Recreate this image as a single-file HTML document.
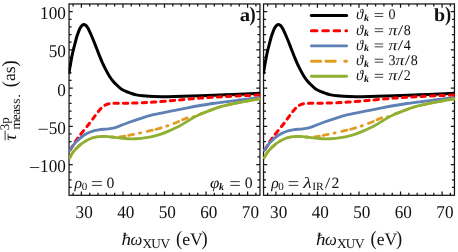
<!DOCTYPE html>
<html><head><meta charset="utf-8"><title>plot</title>
<style>html,body{margin:0;padding:0;background:#fff;font-family:"Liberation Serif",serif}svg{display:block}#w{will-change:transform;width:458px;height:252px}</style>
</head><body>
<div id="w">
<svg width="458" height="252" viewBox="0 0 458 252">
<rect width="458" height="252" fill="#fff"/>
<defs>
<clipPath id="c0"><rect x="68.55" y="3.45" width="191.90" height="192.35"/></clipPath>
<clipPath id="c1"><rect x="263.05" y="3.45" width="191.90" height="192.35"/></clipPath>
</defs>
<g stroke="#151515" stroke-width="1.25" fill="none">
<rect x="69.05" y="3.95" width="190.90" height="191.35"/>
<path d="M73.09 195.30v-2.60 M73.09 3.95v2.60 M81.40 195.30v-3.90 M81.40 3.95v3.90 M89.71 195.30v-2.60 M89.71 3.95v2.60 M98.02 195.30v-2.60 M98.02 3.95v2.60 M106.33 195.30v-2.60 M106.33 3.95v2.60 M114.64 195.30v-2.60 M114.64 3.95v2.60 M122.95 195.30v-3.90 M122.95 3.95v3.90 M131.26 195.30v-2.60 M131.26 3.95v2.60 M139.57 195.30v-2.60 M139.57 3.95v2.60 M147.88 195.30v-2.60 M147.88 3.95v2.60 M156.19 195.30v-2.60 M156.19 3.95v2.60 M164.50 195.30v-3.90 M164.50 3.95v3.90 M172.81 195.30v-2.60 M172.81 3.95v2.60 M181.12 195.30v-2.60 M181.12 3.95v2.60 M189.43 195.30v-2.60 M189.43 3.95v2.60 M197.74 195.30v-2.60 M197.74 3.95v2.60 M206.05 195.30v-3.90 M206.05 3.95v3.90 M214.36 195.30v-2.60 M214.36 3.95v2.60 M222.67 195.30v-2.60 M222.67 3.95v2.60 M230.98 195.30v-2.60 M230.98 3.95v2.60 M239.29 195.30v-2.60 M239.29 3.95v2.60 M247.60 195.30v-3.90 M247.60 3.95v3.90 M255.91 195.30v-2.60 M255.91 3.95v2.60 M69.05 187.45h2.50 M259.95 187.45h-2.50 M69.05 179.81h2.50 M259.95 179.81h-2.50 M69.05 172.16h2.50 M259.95 172.16h-2.50 M69.05 164.52h3.70 M259.95 164.52h-3.70 M69.05 156.88h2.50 M259.95 156.88h-2.50 M69.05 149.23h2.50 M259.95 149.23h-2.50 M69.05 141.58h2.50 M259.95 141.58h-2.50 M69.05 133.94h2.50 M259.95 133.94h-2.50 M69.05 126.29h3.70 M259.95 126.29h-3.70 M69.05 118.65h2.50 M259.95 118.65h-2.50 M69.05 111.00h2.50 M259.95 111.00h-2.50 M69.05 103.36h2.50 M259.95 103.36h-2.50 M69.05 95.71h2.50 M259.95 95.71h-2.50 M69.05 88.07h3.70 M259.95 88.07h-3.70 M69.05 80.42h2.50 M259.95 80.42h-2.50 M69.05 72.78h2.50 M259.95 72.78h-2.50 M69.05 65.13h2.50 M259.95 65.13h-2.50 M69.05 57.49h2.50 M259.95 57.49h-2.50 M69.05 49.84h3.70 M259.95 49.84h-3.70 M69.05 42.20h2.50 M259.95 42.20h-2.50 M69.05 34.55h2.50 M259.95 34.55h-2.50 M69.05 26.91h2.50 M259.95 26.91h-2.50 M69.05 19.27h2.50 M259.95 19.27h-2.50 M69.05 11.62h3.70 M259.95 11.62h-3.70 "/>
</g>
<g clip-path="url(#c0)" fill="none" stroke-width="2.8" stroke-linejoin="round">
<path d="M68.80 73.90 C69.42 70.50 71.32 59.15 72.50 53.50 C73.68 47.85 75.12 43.00 75.90 40.00 C76.68 37.00 76.72 36.98 77.20 35.50 C77.68 34.02 78.35 32.27 78.80 31.10 C79.25 29.93 79.55 29.22 79.90 28.50 C80.25 27.78 80.57 27.28 80.90 26.80 C81.23 26.32 81.41 25.97 81.90 25.60 C82.39 25.23 83.17 24.60 83.85 24.60 C84.53 24.60 85.46 25.23 86.00 25.60 C86.54 25.97 86.73 26.32 87.10 26.80 C87.47 27.28 87.82 27.78 88.20 28.50 C88.58 29.22 88.87 29.93 89.40 31.10 C89.93 32.27 90.75 34.02 91.40 35.50 C92.05 36.98 92.61 38.32 93.30 40.00 C93.99 41.68 94.74 43.55 95.54 45.60 C96.34 47.65 97.50 50.70 98.12 52.30 C98.74 53.90 98.61 53.62 99.26 55.20 C99.91 56.78 100.96 59.48 102.00 61.80 C103.04 64.12 104.23 66.65 105.50 69.10 C106.77 71.55 108.30 74.43 109.60 76.50 C110.90 78.57 112.07 80.05 113.30 81.50 C114.53 82.95 115.68 83.95 117.00 85.20 C118.32 86.45 119.62 87.92 121.20 89.00 C122.78 90.08 124.75 90.95 126.50 91.70 C128.25 92.45 130.08 92.97 131.70 93.50 C133.32 94.03 134.33 94.52 136.20 94.90 C138.07 95.28 139.93 95.52 142.90 95.80 C145.87 96.08 150.32 96.45 154.00 96.60 C157.68 96.75 161.50 96.70 165.00 96.70 C168.50 96.70 169.17 96.75 175.00 96.60 C180.83 96.45 191.67 96.10 200.00 95.80 C208.33 95.50 216.67 95.15 225.00 94.80 C233.33 94.45 244.13 93.97 250.00 93.70 C255.87 93.43 258.50 93.28 260.20 93.20" stroke="#000" stroke-width="3"/>
<path d="M69.00 152.20 C70.37 149.97 73.75 143.65 77.20 138.80 C80.65 133.95 86.37 127.40 89.70 123.10 C93.03 118.80 95.20 115.57 97.20 113.00 C99.20 110.43 100.37 109.02 101.70 107.70 C103.03 106.38 103.98 105.75 105.20 105.10 C106.42 104.45 107.70 104.08 109.00 103.80 C110.30 103.52 111.50 103.48 113.00 103.40 C114.50 103.32 115.42 103.33 118.00 103.30 C120.58 103.27 124.83 103.27 128.50 103.20 C132.17 103.13 135.83 103.08 140.00 102.90 C144.17 102.72 147.67 102.53 153.50 102.10 C159.33 101.67 167.25 100.97 175.00 100.30 C182.75 99.63 191.67 98.72 200.00 98.10 C208.33 97.48 216.67 97.05 225.00 96.60 C233.33 96.15 244.13 95.68 250.00 95.40 C255.87 95.12 258.50 94.98 260.20 94.90" stroke="#ff0000" stroke-width="3" stroke-dasharray="4.4 5.0" stroke-dashoffset="6.5" stroke-linecap="round"/>
<path d="M69.00 151.50 C69.58 150.67 71.33 148.08 72.50 146.50 C73.67 144.92 74.17 143.83 76.00 142.00 C77.83 140.17 81.00 137.22 83.50 135.50 C86.00 133.78 88.50 132.65 91.00 131.70 C93.50 130.75 95.58 130.28 98.50 129.80 C101.42 129.32 105.58 129.22 108.50 128.80 C111.42 128.38 112.67 128.35 116.00 127.30 C119.33 126.25 124.33 124.00 128.50 122.50 C132.67 121.00 136.83 119.60 141.00 118.30 C145.17 117.00 149.92 115.62 153.50 114.70 C157.08 113.78 158.92 113.53 162.50 112.80 C166.08 112.07 170.83 111.13 175.00 110.30 C179.17 109.47 183.33 108.60 187.50 107.80 C191.67 107.00 195.83 106.22 200.00 105.50 C204.17 104.78 208.33 104.10 212.50 103.50 C216.67 102.90 220.83 102.43 225.00 101.90 C229.17 101.37 233.33 100.83 237.50 100.30 C241.67 99.77 246.22 99.08 250.00 98.70 C253.78 98.32 258.50 98.12 260.20 98.00" stroke="#5e81b5"/>
<path d="M69.00 159.00 C69.75 157.78 71.50 154.17 73.50 151.70 C75.50 149.23 78.50 146.25 81.00 144.20 C83.50 142.15 86.00 140.60 88.50 139.40 C91.00 138.20 93.50 137.52 96.00 137.00 C98.50 136.48 101.00 136.33 103.50 136.30 C106.00 136.27 108.58 136.67 111.00 136.80 C113.42 136.93 115.08 137.32 118.00 137.10 C120.92 136.88 124.67 136.22 128.50 135.50 C132.33 134.78 136.83 133.73 141.00 132.80 C145.17 131.87 149.33 130.98 153.50 129.90 C157.67 128.82 162.42 127.45 166.00 126.30 C169.58 125.15 171.42 124.42 175.00 123.00 C178.58 121.58 184.17 118.88 187.50 117.80 C190.83 116.72 192.92 117.08 195.00 116.50 C197.08 115.92 197.50 115.32 200.00 114.30 C202.50 113.28 206.67 111.65 210.00 110.40 C213.33 109.15 216.67 107.80 220.00 106.80 C223.33 105.80 226.67 105.12 230.00 104.40 C233.33 103.68 236.67 103.15 240.00 102.50 C243.33 101.85 246.63 101.12 250.00 100.50 C253.37 99.88 258.50 99.08 260.20 98.80" stroke="#e19c24" stroke-dasharray="5.2 3.8 5.2 5.8 1.2 6.8" stroke-dashoffset="-3.9" stroke-linecap="round"/>
<path d="M69.00 159.00 C69.75 157.78 71.50 154.17 73.50 151.70 C75.50 149.23 78.50 146.25 81.00 144.20 C83.50 142.15 86.00 140.60 88.50 139.40 C91.00 138.20 93.50 137.52 96.00 137.00 C98.50 136.48 101.00 136.30 103.50 136.30 C106.00 136.30 108.08 136.70 111.00 137.00 C113.92 137.30 117.67 137.80 121.00 138.10 C124.33 138.40 127.67 138.77 131.00 138.80 C134.33 138.83 137.67 138.63 141.00 138.30 C144.33 137.97 147.67 137.50 151.00 136.80 C154.33 136.10 157.83 135.15 161.00 134.10 C164.17 133.05 166.83 131.88 170.00 130.50 C173.17 129.12 176.67 127.60 180.00 125.80 C183.33 124.00 186.67 121.62 190.00 119.70 C193.33 117.78 196.67 115.85 200.00 114.30 C203.33 112.75 206.67 111.65 210.00 110.40 C213.33 109.15 216.67 107.80 220.00 106.80 C223.33 105.80 226.67 105.12 230.00 104.40 C233.33 103.68 236.67 103.15 240.00 102.50 C243.33 101.85 246.63 101.12 250.00 100.50 C253.37 99.88 258.50 99.08 260.20 98.80" stroke="#8fb032"/>
</g>
<g stroke="#151515" stroke-width="1.25" fill="none">
<rect x="263.55" y="3.95" width="190.90" height="191.35"/>
<path d="M267.59 195.30v-2.60 M267.59 3.95v2.60 M275.90 195.30v-3.90 M275.90 3.95v3.90 M284.21 195.30v-2.60 M284.21 3.95v2.60 M292.52 195.30v-2.60 M292.52 3.95v2.60 M300.83 195.30v-2.60 M300.83 3.95v2.60 M309.14 195.30v-2.60 M309.14 3.95v2.60 M317.45 195.30v-3.90 M317.45 3.95v3.90 M325.76 195.30v-2.60 M325.76 3.95v2.60 M334.07 195.30v-2.60 M334.07 3.95v2.60 M342.38 195.30v-2.60 M342.38 3.95v2.60 M350.69 195.30v-2.60 M350.69 3.95v2.60 M359.00 195.30v-3.90 M359.00 3.95v3.90 M367.31 195.30v-2.60 M367.31 3.95v2.60 M375.62 195.30v-2.60 M375.62 3.95v2.60 M383.93 195.30v-2.60 M383.93 3.95v2.60 M392.24 195.30v-2.60 M392.24 3.95v2.60 M400.55 195.30v-3.90 M400.55 3.95v3.90 M408.86 195.30v-2.60 M408.86 3.95v2.60 M417.17 195.30v-2.60 M417.17 3.95v2.60 M425.48 195.30v-2.60 M425.48 3.95v2.60 M433.79 195.30v-2.60 M433.79 3.95v2.60 M442.10 195.30v-3.90 M442.10 3.95v3.90 M450.41 195.30v-2.60 M450.41 3.95v2.60 M263.55 187.45h2.50 M454.45 187.45h-2.50 M263.55 179.81h2.50 M454.45 179.81h-2.50 M263.55 172.16h2.50 M454.45 172.16h-2.50 M263.55 164.52h3.70 M454.45 164.52h-3.70 M263.55 156.88h2.50 M454.45 156.88h-2.50 M263.55 149.23h2.50 M454.45 149.23h-2.50 M263.55 141.58h2.50 M454.45 141.58h-2.50 M263.55 133.94h2.50 M454.45 133.94h-2.50 M263.55 126.29h3.70 M454.45 126.29h-3.70 M263.55 118.65h2.50 M454.45 118.65h-2.50 M263.55 111.00h2.50 M454.45 111.00h-2.50 M263.55 103.36h2.50 M454.45 103.36h-2.50 M263.55 95.71h2.50 M454.45 95.71h-2.50 M263.55 88.07h3.70 M454.45 88.07h-3.70 M263.55 80.42h2.50 M454.45 80.42h-2.50 M263.55 72.78h2.50 M454.45 72.78h-2.50 M263.55 65.13h2.50 M454.45 65.13h-2.50 M263.55 57.49h2.50 M454.45 57.49h-2.50 M263.55 49.84h3.70 M454.45 49.84h-3.70 M263.55 42.20h2.50 M454.45 42.20h-2.50 M263.55 34.55h2.50 M454.45 34.55h-2.50 M263.55 26.91h2.50 M454.45 26.91h-2.50 M263.55 19.27h2.50 M454.45 19.27h-2.50 M263.55 11.62h3.70 M454.45 11.62h-3.70 "/>
</g>
<g clip-path="url(#c1)" fill="none" stroke-width="2.8" stroke-linejoin="round">
<path d="M263.30 73.90 C263.92 70.50 265.82 59.15 267.00 53.50 C268.18 47.85 269.62 43.00 270.40 40.00 C271.18 37.00 271.22 36.98 271.70 35.50 C272.18 34.02 272.85 32.27 273.30 31.10 C273.75 29.93 274.05 29.22 274.40 28.50 C274.75 27.78 275.07 27.28 275.40 26.80 C275.73 26.32 275.91 25.97 276.40 25.60 C276.89 25.23 277.67 24.60 278.35 24.60 C279.03 24.60 279.96 25.23 280.50 25.60 C281.04 25.97 281.23 26.32 281.60 26.80 C281.97 27.28 282.32 27.78 282.70 28.50 C283.08 29.22 283.37 29.93 283.90 31.10 C284.43 32.27 285.25 34.02 285.90 35.50 C286.55 36.98 287.11 38.32 287.80 40.00 C288.49 41.68 289.24 43.55 290.04 45.60 C290.84 47.65 292.00 50.70 292.62 52.30 C293.24 53.90 293.11 53.62 293.76 55.20 C294.41 56.78 295.46 59.48 296.50 61.80 C297.54 64.12 298.73 66.65 300.00 69.10 C301.27 71.55 302.80 74.43 304.10 76.50 C305.40 78.57 306.57 80.05 307.80 81.50 C309.03 82.95 310.18 83.95 311.50 85.20 C312.82 86.45 314.12 87.92 315.70 89.00 C317.28 90.08 319.25 90.95 321.00 91.70 C322.75 92.45 324.58 92.97 326.20 93.50 C327.82 94.03 328.83 94.52 330.70 94.90 C332.57 95.28 334.43 95.52 337.40 95.80 C340.37 96.08 344.82 96.45 348.50 96.60 C352.18 96.75 356.00 96.70 359.50 96.70 C363.00 96.70 363.67 96.75 369.50 96.60 C375.33 96.45 386.17 96.10 394.50 95.80 C402.83 95.50 411.17 95.15 419.50 94.80 C427.83 94.45 438.63 93.97 444.50 93.70 C450.37 93.43 453.00 93.28 454.70 93.20" stroke="#000" stroke-width="3"/>
<path d="M263.50 152.20 C264.87 149.97 268.25 143.65 271.70 138.80 C275.15 133.95 280.87 127.40 284.20 123.10 C287.53 118.80 289.70 115.57 291.70 113.00 C293.70 110.43 294.87 109.02 296.20 107.70 C297.53 106.38 298.48 105.75 299.70 105.10 C300.92 104.45 302.20 104.08 303.50 103.80 C304.80 103.52 306.00 103.48 307.50 103.40 C309.00 103.32 309.92 103.33 312.50 103.30 C315.08 103.27 319.33 103.27 323.00 103.20 C326.67 103.13 330.33 103.08 334.50 102.90 C338.67 102.72 342.17 102.53 348.00 102.10 C353.83 101.67 361.75 100.97 369.50 100.30 C377.25 99.63 386.17 98.72 394.50 98.10 C402.83 97.48 411.17 97.05 419.50 96.60 C427.83 96.15 438.63 95.68 444.50 95.40 C450.37 95.12 453.00 94.98 454.70 94.90" stroke="#ff0000" stroke-width="3" stroke-dasharray="4.4 5.0" stroke-dashoffset="6.5" stroke-linecap="round"/>
<path d="M263.50 151.50 C264.08 150.67 265.83 148.08 267.00 146.50 C268.17 144.92 268.67 143.83 270.50 142.00 C272.33 140.17 275.50 137.22 278.00 135.50 C280.50 133.78 283.00 132.65 285.50 131.70 C288.00 130.75 290.08 130.28 293.00 129.80 C295.92 129.32 300.08 129.22 303.00 128.80 C305.92 128.38 307.17 128.35 310.50 127.30 C313.83 126.25 318.83 124.00 323.00 122.50 C327.17 121.00 331.33 119.60 335.50 118.30 C339.67 117.00 344.42 115.62 348.00 114.70 C351.58 113.78 353.42 113.53 357.00 112.80 C360.58 112.07 365.33 111.13 369.50 110.30 C373.67 109.47 377.83 108.60 382.00 107.80 C386.17 107.00 390.33 106.22 394.50 105.50 C398.67 104.78 402.83 104.10 407.00 103.50 C411.17 102.90 415.33 102.43 419.50 101.90 C423.67 101.37 427.83 100.83 432.00 100.30 C436.17 99.77 440.72 99.08 444.50 98.70 C448.28 98.32 453.00 98.12 454.70 98.00" stroke="#5e81b5"/>
<path d="M263.50 159.00 C264.25 157.78 266.00 154.17 268.00 151.70 C270.00 149.23 273.00 146.25 275.50 144.20 C278.00 142.15 280.50 140.60 283.00 139.40 C285.50 138.20 288.00 137.52 290.50 137.00 C293.00 136.48 295.50 136.33 298.00 136.30 C300.50 136.27 303.08 136.67 305.50 136.80 C307.92 136.93 309.58 137.32 312.50 137.10 C315.42 136.88 319.17 136.22 323.00 135.50 C326.83 134.78 331.33 133.73 335.50 132.80 C339.67 131.87 343.83 130.98 348.00 129.90 C352.17 128.82 356.92 127.45 360.50 126.30 C364.08 125.15 365.92 124.42 369.50 123.00 C373.08 121.58 378.67 118.88 382.00 117.80 C385.33 116.72 387.42 117.08 389.50 116.50 C391.58 115.92 392.00 115.32 394.50 114.30 C397.00 113.28 401.17 111.65 404.50 110.40 C407.83 109.15 411.17 107.80 414.50 106.80 C417.83 105.80 421.17 105.12 424.50 104.40 C427.83 103.68 431.17 103.15 434.50 102.50 C437.83 101.85 441.13 101.12 444.50 100.50 C447.87 99.88 453.00 99.08 454.70 98.80" stroke="#e19c24" stroke-dasharray="5.2 3.8 5.2 5.8 1.2 6.8" stroke-dashoffset="-3.9" stroke-linecap="round"/>
<path d="M263.50 159.00 C264.25 157.78 266.00 154.17 268.00 151.70 C270.00 149.23 273.00 146.25 275.50 144.20 C278.00 142.15 280.50 140.60 283.00 139.40 C285.50 138.20 288.00 137.52 290.50 137.00 C293.00 136.48 295.50 136.30 298.00 136.30 C300.50 136.30 302.58 136.70 305.50 137.00 C308.42 137.30 312.17 137.80 315.50 138.10 C318.83 138.40 322.17 138.77 325.50 138.80 C328.83 138.83 332.17 138.63 335.50 138.30 C338.83 137.97 342.17 137.50 345.50 136.80 C348.83 136.10 352.33 135.15 355.50 134.10 C358.67 133.05 361.33 131.88 364.50 130.50 C367.67 129.12 371.17 127.60 374.50 125.80 C377.83 124.00 381.17 121.62 384.50 119.70 C387.83 117.78 391.17 115.85 394.50 114.30 C397.83 112.75 401.17 111.65 404.50 110.40 C407.83 109.15 411.17 107.80 414.50 106.80 C417.83 105.80 421.17 105.12 424.50 104.40 C427.83 103.68 431.17 103.15 434.50 102.50 C437.83 101.85 441.13 101.12 444.50 100.50 C447.87 99.88 453.00 99.08 454.70 98.80" stroke="#8fb032"/>
</g>
<g font-family="Liberation Serif, serif" fill="#111" font-size="17" text-rendering="geometricPrecision">
<text transform="translate(65.90 19.22) scale(0.955 1)" font-size="18" text-anchor="end">100</text>
<text transform="translate(65.90 57.45) scale(0.955 1)" font-size="18" text-anchor="end">50</text>
<text transform="translate(65.90 95.67) scale(0.955 1)" font-size="18" text-anchor="end">0</text>
<text transform="translate(65.90 133.89) scale(0.955 1)" font-size="18" text-anchor="end">50</text>
<path d="M38.51 129.29h9.3" stroke="#222" stroke-width="0.9" fill="none"/>
<text transform="translate(65.90 172.12) scale(0.955 1)" font-size="18" text-anchor="end">100</text>
<path d="M29.92 167.52h9.3" stroke="#222" stroke-width="0.9" fill="none"/>
<text transform="translate(84.20 217.60) scale(0.955 1)" font-size="18" text-anchor="middle">30</text>
<text transform="translate(125.75 217.60) scale(0.955 1)" font-size="18" text-anchor="middle">40</text>
<text transform="translate(167.30 217.60) scale(0.955 1)" font-size="18" text-anchor="middle">50</text>
<text transform="translate(208.85 217.60) scale(0.955 1)" font-size="18" text-anchor="middle">60</text>
<text transform="translate(250.40 217.60) scale(0.955 1)" font-size="18" text-anchor="middle">70</text>
<text transform="translate(278.70 217.60) scale(0.955 1)" font-size="18" text-anchor="middle">30</text>
<text transform="translate(320.25 217.60) scale(0.955 1)" font-size="18" text-anchor="middle">40</text>
<text transform="translate(361.80 217.60) scale(0.955 1)" font-size="18" text-anchor="middle">50</text>
<text transform="translate(403.35 217.60) scale(0.955 1)" font-size="18" text-anchor="middle">60</text>
<text transform="translate(444.90 217.60) scale(0.955 1)" font-size="18" text-anchor="middle">70</text>
<text transform="translate(121.50 244.60) scale(1.080 1)" font-size="17.6" font-style="italic">ħ</text>
<text transform="translate(130.60 244.60) scale(0.950 1)" font-size="17.6" font-style="italic">ω</text>
<text font-size="13.2" y="247.7" x="142.40 151.30 160.40">XUV</text>
<text transform="translate(176.00 244.60) scale(0.920 1)" font-size="20.2">(</text>
<text transform="translate(182.20 244.60)" font-size="17.6">eV</text>
<text transform="translate(201.60 244.60) scale(0.920 1)" font-size="20.2">)</text>
<text transform="translate(316.00 244.60) scale(1.080 1)" font-size="17.6" font-style="italic">ħ</text>
<text transform="translate(325.10 244.60) scale(0.950 1)" font-size="17.6" font-style="italic">ω</text>
<text font-size="13.2" y="247.7" x="336.90 345.80 354.90">XUV</text>
<text transform="translate(370.50 244.60) scale(0.920 1)" font-size="20.2">(</text>
<text transform="translate(376.70 244.60)" font-size="17.6">eV</text>
<text transform="translate(396.10 244.60) scale(0.920 1)" font-size="20.2">)</text>
<g transform="translate(15.5 140.9) rotate(-90)">
<text transform="translate(0.20 0.00)" font-size="18.2" font-style="italic">τ</text>
<path d="M0.6 -10.4h9.6" stroke="#222" stroke-width="0.9" fill="none"/>
<text transform="translate(10.60 -6.60)" font-size="13">3p</text>
<text font-size="13.2" y="4.5" x="11.3 20.7 26.2 31.6 37.1 43.3">meass.</text>
<text transform="translate(53.60 0.00) scale(0.920 1)" font-size="20.2">(</text>
<text transform="translate(59.80 -0.50)" font-size="17.6">as</text>
<text transform="translate(74.30 0.00) scale(0.920 1)" font-size="20.2">)</text>
</g>
<text transform="translate(239.80 21.40) scale(1.120 1)" font-size="18.5" font-weight="bold">a</text>
<text transform="translate(249.40 21.40) scale(0.900 1)" font-size="20.6" font-weight="bold">)</text>
<text transform="translate(434.00 21.40) scale(1.080 1)" font-size="18.5" font-weight="bold">b</text>
<text transform="translate(444.90 21.40) scale(0.900 1)" font-size="20.6" font-weight="bold">)</text>
<text transform="translate(74.40 187.50)" font-size="15.7" font-style="italic">ρ</text>
<text transform="translate(81.80 189.90)" font-size="11">0</text>
<path d="M91.90 181.60H101.90M91.90 185.40H101.90" stroke="#222" stroke-width="0.90" fill="none"/>
<text transform="translate(106.50 187.50)" font-size="15.7">0</text>
<text transform="translate(210.10 187.50) scale(1.080 1)" font-size="15.7" font-style="italic">φ</text>
<text transform="translate(219.00 189.90)" font-size="10" font-style="italic" font-weight="bold">k</text>
<path d="M230.30 181.60H239.80M230.30 185.40H239.80" stroke="#222" stroke-width="0.90" fill="none"/>
<text transform="translate(244.80 187.50)" font-size="15.7">0</text>
<text transform="translate(271.20 187.50)" font-size="15.7" font-style="italic">ρ</text>
<text transform="translate(278.20 189.90)" font-size="11">0</text>
<path d="M288.70 181.60H298.20M288.70 185.40H298.20" stroke="#222" stroke-width="0.90" fill="none"/>
<text transform="translate(303.20 187.50) scale(1.250 1)" font-size="15.7" font-style="italic">λ</text>
<text transform="translate(312.20 189.90) scale(1.050 1)" font-size="11">IR</text>
<text transform="translate(324.90 187.50) scale(1.200 1)" font-size="15.7">/</text>
<text transform="translate(331.40 187.50)" font-size="15.7">2</text>
<text transform="translate(356.00 19.35)" font-size="14.8" font-style="italic">ϑ</text>
<text transform="translate(363.90 21.05) scale(1.050 1)" font-size="9.5" font-style="italic" font-weight="bold">k</text>
<path d="M374.70 13.55H383.20M374.70 16.45H383.20" stroke="#222" stroke-width="0.85" fill="none"/>
<text transform="translate(388.40 19.35) scale(0.950 1)" font-size="14.8">0</text>
<text transform="translate(356.00 34.55)" font-size="14.8" font-style="italic">ϑ</text>
<text transform="translate(363.90 36.25) scale(1.050 1)" font-size="9.5" font-style="italic" font-weight="bold">k</text>
<path d="M374.70 28.75H383.20M374.70 31.65H383.20" stroke="#222" stroke-width="0.85" fill="none"/>
<text transform="translate(388.40 34.55) scale(1.200 1)" font-size="14.8" font-style="italic">π</text>
<text transform="translate(397.80 34.55) scale(1.300 1)" font-size="14.8">/</text>
<text transform="translate(403.80 34.55) scale(0.950 1)" font-size="14.8">8</text>
<text transform="translate(356.00 49.75)" font-size="14.8" font-style="italic">ϑ</text>
<text transform="translate(363.90 51.45) scale(1.050 1)" font-size="9.5" font-style="italic" font-weight="bold">k</text>
<path d="M374.70 43.95H383.20M374.70 46.85H383.20" stroke="#222" stroke-width="0.85" fill="none"/>
<text transform="translate(388.40 49.75) scale(1.200 1)" font-size="14.8" font-style="italic">π</text>
<text transform="translate(397.80 49.75) scale(1.300 1)" font-size="14.8">/</text>
<text transform="translate(403.80 49.75) scale(0.950 1)" font-size="14.8">4</text>
<text transform="translate(356.00 65.05)" font-size="14.8" font-style="italic">ϑ</text>
<text transform="translate(363.90 66.75) scale(1.050 1)" font-size="9.5" font-style="italic" font-weight="bold">k</text>
<path d="M374.70 59.25H383.20M374.70 62.15H383.20" stroke="#222" stroke-width="0.85" fill="none"/>
<text transform="translate(388.40 65.05) scale(0.950 1)" font-size="14.8">3</text>
<text transform="translate(395.40 65.05) scale(1.200 1)" font-size="14.8" font-style="italic">π</text>
<text transform="translate(404.80 65.05) scale(1.300 1)" font-size="14.8">/</text>
<text transform="translate(410.80 65.05) scale(0.950 1)" font-size="14.8">8</text>
<text transform="translate(356.00 80.15)" font-size="14.8" font-style="italic">ϑ</text>
<text transform="translate(363.90 81.85) scale(1.050 1)" font-size="9.5" font-style="italic" font-weight="bold">k</text>
<path d="M374.70 74.35H383.20M374.70 77.25H383.20" stroke="#222" stroke-width="0.85" fill="none"/>
<text transform="translate(388.40 80.15) scale(1.200 1)" font-size="14.8" font-style="italic">π</text>
<text transform="translate(397.80 80.15) scale(1.300 1)" font-size="14.8">/</text>
<text transform="translate(403.80 80.15) scale(0.950 1)" font-size="14.8">2</text>
</g>
<g fill="none" stroke-width="2.9" stroke-linecap="round">
<path d="M311.4 15.5H346.6" stroke="#000" stroke-width="3.1"/>
<path d="M311.4 30.7h5.6M322.8 30.7h5.6M334.1 30.7h5.6M345.9 30.7h0.7" stroke="#ff0000" stroke-width="3"/>
<path d="M311.4 45.9H346.6" stroke="#5e81b5"/>
<path d="M311.4 61.2h9.4M325.9 61.2h9.4M344.7 61.2h1.9" stroke="#e19c24"/>
<path d="M311.4 76.3H346.6" stroke="#8fb032"/>
</g>
</svg>
</div>
</body></html>
